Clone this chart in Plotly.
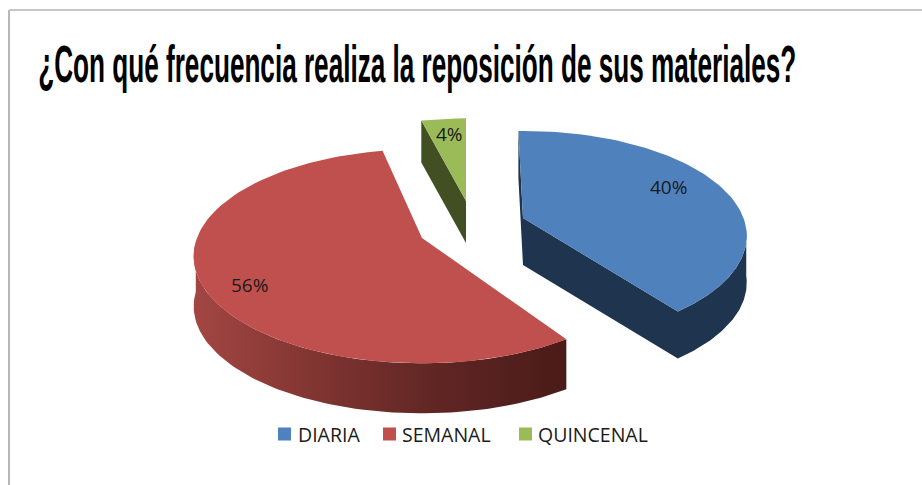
import numpy as np
import plotly.graph_objects as go

# Chart values
categories = ["DIARIA", "SEMANAL", "QUINCENAL"]
values = [40, 56, 4]
title_text = "¿Con qué frecuencia realiza la reposición de sus materiales?"

# Colours of the pie faces and walls
top_colors = ["#4f81bd", "#c0504d", "#9bbb59"]
wall_colors = ["#1f344e", "#7f3531", "#424f22"]
red_wall_scale = [[0, "#a34643"], [0.3, "#833632"], [0.65, "#602624"], [1, "#4a1b18"]]

# Pie drawing set-up: page pixels, exploded slices seen in perspective
centers = [(523, 218), (422, 238), (466, 201)]
scales = [0.98, 1.0, 0.93]
depths = [47, 50, 42]
angle_shift = [0, 4, 1.4]
label_xy = [(668, 187), (249, 285), (449, 134)]
RX, RY, PERSP = 225, 104, 0.17
ROTATION = -1.4


def rim(center, scale, start, end, drop=0):
    """Outer edge of the pie between two angles, clockwise from the top."""
    theta = np.radians(np.linspace(start, end, 90))
    u, v = np.sin(theta), np.cos(theta)
    s = scale / (1 + PERSP * v)
    return center[0] + RX * u * s, center[1] - RY * v * s + drop


fig = go.Figure()

angle = ROTATION
spans = []
for val, shift in zip(values, angle_shift):
    spans.append((angle + shift, angle + shift + val * 3.6))
    angle += val * 3.6

# red first, blue last so the nearer pieces sit on top
for i in [1, 2, 0]:
    cx, cy = centers[i]
    start, end = spans[i]
    depth = depths[i]

    # side wall
    if i == 0:
        x1, y1 = rim(centers[i], scales[i], 96, end)
        x0, y0 = rim(centers[i], scales[i], start, start)
        xs = [*x1, cx, x0[0], x0[0], cx, x1[-1], *x1[::-1], x1[0]]
        ys = [*y1, cy, y0[0], y0[0] + depth, cy + depth, y1[-1] + depth, *(y1[::-1] + depth), y1[0]]
    elif i == 1:
        x1, y1 = rim(centers[i], scales[i], start, 268)
        xs = [*x1, *x1[::-1]]
        ys = [*y1, *(y1[::-1] + depth)]
    else:
        x1, y1 = rim(centers[i], scales[i], start, start)
        xs = [cx, x1[0], x1[0], cx, cx]
        ys = [cy, y1[0], y1[0] + depth, cy + depth, cy]

    wall = dict(x=xs, y=ys, mode="lines", fill="toself", line=dict(width=0), hoverinfo="skip")
    if i == 1:
        wall["fillgradient"] = dict(type="horizontal", colorscale=red_wall_scale,
                                    start=min(xs), stop=max(xs))
    else:
        wall["fillcolor"] = wall_colors[i]
    fig.add_trace(go.Scatter(**wall))

    # top face
    x2, y2 = rim(centers[i], scales[i], start, end)
    fig.add_trace(go.Scatter(
        x=[cx, *x2, cx], y=[cy, *y2, cy], mode="lines", fill="toself",
        fillcolor=top_colors[i], line=dict(width=0), name=categories[i], hoverinfo="skip",
    ))

# Hand placed legend
legend_swatch_x = [284.5, 389.5, 525.5]
legend_text_x = [296, 400, 536]
fig.add_trace(go.Scatter(
    x=legend_swatch_x, y=[434, 434, 434], mode="markers",
    marker=dict(symbol="square", size=13, color=top_colors), hoverinfo="skip",
))

for name, lx in zip(categories, legend_text_x):
    fig.add_annotation(x=lx, y=434, text=name, showarrow=False, xanchor="left", yanchor="middle",
                       font=dict(family="Open Sans", size=19.5, color="#1a1a1a"))

for val, (lx, ly) in zip(values, label_xy):
    fig.add_annotation(x=lx, y=ly, text=f"{val}%", showarrow=False,
                       font=dict(family="Open Sans", size=19, color="#1a1a1a"))

fig.add_annotation(x=417, y=64, text=f"<b>{title_text}</b>", showarrow=False, xanchor="center",
                   yanchor="middle", name="charttitle",
                   font=dict(family="Liberation Sans", size=52, color="#000000"))

# Chart area frame, left and top edges only
fig.add_shape(type="line", x0=9, x1=9, y0=10, y1=485, line=dict(color="#b8b8b8", width=2))
fig.add_shape(type="line", x0=9, x1=922, y0=10, y1=10, line=dict(color="#c8c8c8", width=2))

fig.update_xaxes(range=[0, 922], visible=False, fixedrange=True)
fig.update_yaxes(range=[485, 0], visible=False, fixedrange=True)
fig.update_layout(
    width=922, height=485, margin=dict(l=0, r=0, t=0, b=0),
    paper_bgcolor="white", plot_bgcolor="white", showlegend=False,
)

# Drop the page margin and squeeze the title, it is a stretched picture in the original
squeeze = """
document.body.style.margin = '0';
document.body.style.overflow = 'hidden';
var gd = document.querySelector('.plotly-graph-div');
function squeezeTitle() {
  gd.querySelectorAll('.annotation-text').forEach(function (t) {
    if (t.textContent.indexOf('frecuencia') >= 0) {
      t.setAttribute('textLength', '758');
      t.setAttribute('lengthAdjust', 'spacingAndGlyphs');
      var box = t.getBBox();
      t.closest('.annotation').querySelectorAll('rect').forEach(function (r) {
        r.setAttribute('x', box.x);
        r.setAttribute('width', box.width);
      });
    }
  });
}
squeezeTitle();
setTimeout(squeezeTitle, 50);
"""
fig.write_html("out.html", post_script=squeeze, config=dict(displayModeBar=False))
